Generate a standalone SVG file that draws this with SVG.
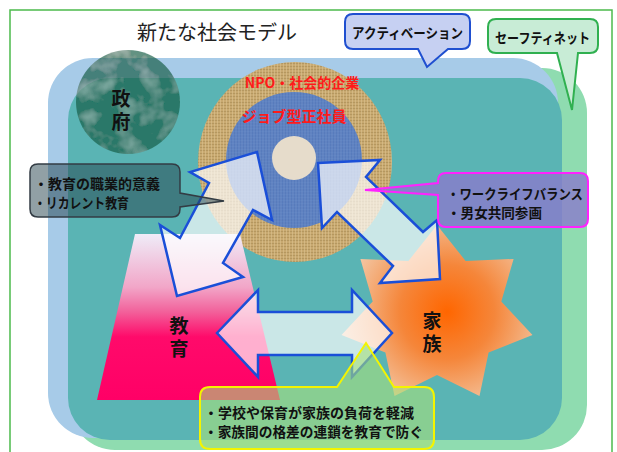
<svg xmlns="http://www.w3.org/2000/svg" width="617" height="452" viewBox="0 0 617 452">
<defs>
<style>
.jp{font-family:"Noto Sans CJK JP","Noto Sans CJK SC",sans-serif;}
.lbl{font-size:14px;font-weight:bold;fill:#111;}
.vert{font-size:19px;font-weight:bold;fill:#111;text-anchor:middle;writing-mode:vertical-rl;letter-spacing:4px;}
.red{font-weight:bold;fill:#ff1a1a;text-anchor:middle;}
.arrow{fill:#ffffff;fill-opacity:0.68;stroke:#1a4fd8;stroke-width:2.5;stroke-linejoin:miter;}
</style>
<pattern id="burlap" width="3" height="3" patternUnits="userSpaceOnUse">
<rect width="3" height="3" fill="#c8a970"/>
<path d="M0 0.5H3" stroke="#ad8f58" stroke-width="0.7"/>
<path d="M1.5 0V3" stroke="#dcc391" stroke-width="0.6"/>
</pattern>
<pattern id="denim" width="3" height="3" patternUnits="userSpaceOnUse">
<rect width="3" height="3" fill="#5b80c0"/>
<path d="M0 1H3" stroke="#4c6fb0" stroke-width="0.6"/>
<path d="M2 0V3" stroke="#7896cd" stroke-width="0.6"/>
</pattern>
<linearGradient id="eduGrad" x1="0" y1="234" x2="0" y2="400" gradientUnits="userSpaceOnUse">
<stop offset="0" stop-color="#efecf8"/>
<stop offset="0.32" stop-color="#f2a6c8"/>
<stop offset="0.47" stop-color="#f2609a"/>
<stop offset="0.62" stop-color="#ff0a6a"/>
<stop offset="1" stop-color="#ff0066"/>
</linearGradient>
<radialGradient id="famGrad" cx="447" cy="312" r="105" gradientUnits="userSpaceOnUse">
<stop offset="0" stop-color="#ff6600"/>
<stop offset="0.45" stop-color="#f5863a"/>
<stop offset="1" stop-color="#f3caa9"/>
</radialGradient>
<filter id="marble" x="0" y="0" width="100%" height="100%">
<feTurbulence type="fractalNoise" baseFrequency="0.05" numOctaves="3" seed="5" result="n"/>
<feColorMatrix in="n" type="matrix" values="0 0 0 0 0.7  0 0 0 0 0.88  0 0 0 0 0.8  0.9 0 0 0 -0.42" result="v"/>
<feComposite in="v" in2="SourceGraphic" operator="in" result="v2"/>
<feMerge><feMergeNode in="SourceGraphic"/><feMergeNode in="v2"/></feMerge>
</filter>
</defs>

<rect width="617" height="452" fill="#ffffff"/>
<rect id="frame" x="10" y="10" width="602" height="460" fill="none" stroke="#4cbb4c" stroke-width="1.5"/>

<text id="title" class="jp" x="217" y="40" font-size="20" fill="#222" text-anchor="middle">新たな社会モデル</text>

<g id="areas">
<rect id="safety-area" x="70" y="68" width="517" height="382" rx="45" fill="#8fdcb0"/>
<rect id="activation-area" x="48" y="58" width="510" height="380" rx="45" fill="#a7cbe8"/>
<rect id="society" x="68" y="78" width="494" height="362" rx="42" fill="#5ab4b4"/>
</g>

<g id="government">
<circle cx="128" cy="102" r="52" fill="#155a42" fill-opacity="0.66" filter="url(#marble)"/>
<text class="jp vert" x="121" y="112">政府</text>
</g>

<g id="enterprise">
<ellipse cx="295" cy="162" rx="97" ry="100" fill="url(#burlap)"/>
<circle cx="294" cy="160" r="68" fill="url(#denim)"/>
<circle cx="294" cy="158" r="22" fill="#e6dccb"/>
<text class="jp red" x="302" y="88" font-size="14">NPO・社会的企業</text>
<text class="jp red" x="294" y="122" font-size="15">ジョブ型正社員</text>
</g>

<g id="education">
<polygon points="135,234 240,234 280,400 97,400" fill="url(#eduGrad)"/>
<text class="jp vert" x="179" y="339" font-weight="normal">教育</text>
</g>

<g id="family">
<polygon points="437,225 465.6,260.9 513.6,258.9 501.3,301.6 532.5,335 488.6,352.4 479.5,396.1 437,375 394.5,396.1 385.4,352.4 341.5,335 372.7,301.6 360.4,258.9 408.4,260.9" fill="url(#famGrad)"/>
<text class="jp vert" x="432" y="334">家族</text>
</g>

<g id="connectors">
<polygon class="arrow" points="257,152 272,220 253,210 223,263 243,277 177,296 160,225 180,238 209,183 190,172"/>
<polygon class="arrow" points="318,163 380,160 366,177 423,232 437,220 440,279 380,283 393,266 337,212 322,228"/>
<polygon class="arrow" points="217,333 258,290 258,312 352,312 352,290 392,333 352,377 352,355 258,355 258,377"/>
</g>

<g id="callout-education">
<path d="M38,164 H172 Q180,164 180,172 V193 L224,201 L180,207 V209 Q180,217 172,217 H38 Q30,217 30,209 V172 Q30,164 38,164 Z" fill="#24424c" fill-opacity="0.5" stroke="#333c44" stroke-width="1.5"/>
<text class="jp lbl" x="34" y="189">・教育の職業的意義</text>
<text class="jp lbl" x="34" y="208" textLength="95" lengthAdjust="spacingAndGlyphs">・リカレント教育</text>
</g>

<g id="callout-worklife">
<path d="M446,173 H580 Q588,173 588,181 V219 Q588,227 580,227 H446 Q438,227 438,219 V195 L365,190 L438,183 V181 Q438,173 446,173 Z" fill="#8a78cc" fill-opacity="0.78" stroke="#ff22ff" stroke-width="2"/>
<text class="jp lbl" x="447" y="199" textLength="136" lengthAdjust="spacingAndGlyphs">・ワークライフバランス</text>
<text class="jp lbl" x="447" y="218" textLength="95" lengthAdjust="spacingAndGlyphs">・男女共同参画</text>
</g>

<g id="callout-family">
<path d="M210,387 H337 L366,343 L394,387 H424 Q434,387 434,397 V439 Q434,449 424,449 H210 Q200,449 200,439 V397 Q200,387 210,387 Z" fill="#a6e07c" fill-opacity="0.6" stroke="#f4f400" stroke-width="2"/>
<text class="jp lbl" x="204" y="418">・学校や保育が家族の負荷を軽減</text>
<text class="jp lbl" x="204" y="437" textLength="219" lengthAdjust="spacingAndGlyphs">・家族間の格差の連鎖を教育で防ぐ</text>
</g>

<g id="callout-activation">
<path d="M353,14 H462 Q470,14 470,22 V41 Q470,49 462,49 H448 L427,67 L418,49 H353 Q345,49 345,41 V22 Q345,14 353,14 Z" fill="#c6d0f2" stroke="#1f4fd0" stroke-width="2"/>
<text class="jp lbl" x="352" y="38" textLength="111" lengthAdjust="spacingAndGlyphs">アクティベーション</text>
</g>

<g id="callout-safety">
<path d="M496,19 H590 Q598,19 598,27 V45 Q598,53 590,53 H578 L572,110 L557,53 H496 Q488,53 488,45 V27 Q488,19 496,19 Z" fill="#c8ecd6" stroke="#30b050" stroke-width="2"/>
<text class="jp lbl" x="495" y="43" textLength="95" lengthAdjust="spacingAndGlyphs">セーフティネット</text>
</g>
</svg>
